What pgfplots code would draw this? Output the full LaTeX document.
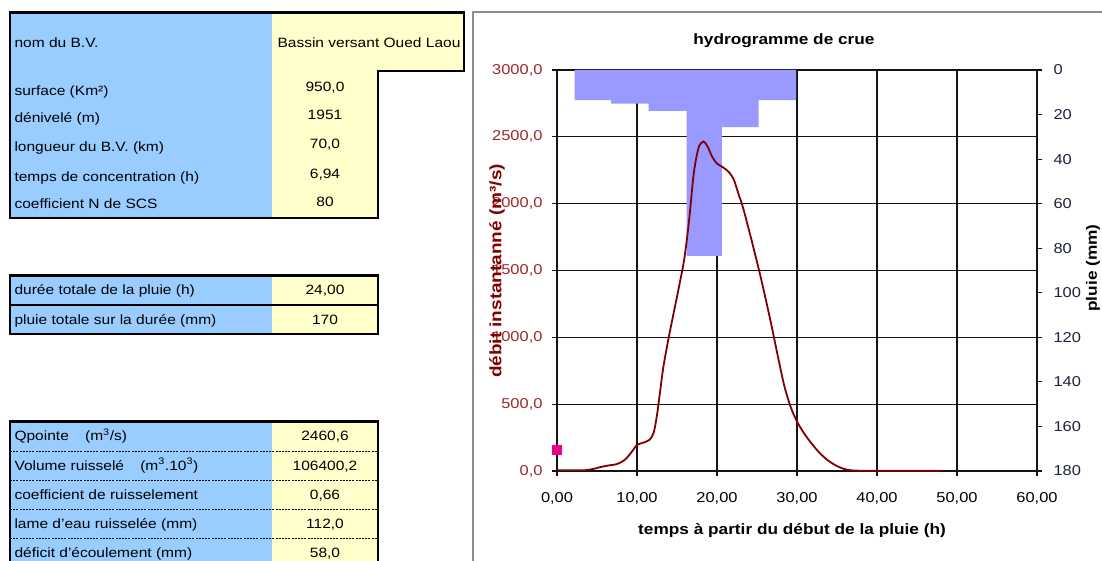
\documentclass[border=0pt]{standalone}
\usepackage{fontspec}
\setmainfont{Liberation Sans}[FakeStretch=1.15]
\usepackage{pgfplots}
\pgfplotsset{compat=1.18}
\definecolor{bvblue}{RGB}{153,204,255}
\definecolor{bvyellow}{RGB}{255,255,204}
\definecolor{rainbar}{RGB}{153,153,255}
\definecolor{flow}{RGB}{128,0,0}
\definecolor{ticklab}{RGB}{160,40,40}
\definecolor{navy}{RGB}{30,35,60}
\newcommand{\tf}{\fontsize{13.5}{16}\selectfont}
\newcommand{\kf}{\fontsize{14.3}{17}\selectfont}
\begin{document}
\begin{tikzpicture}[x=1pt,y=1pt]
\useasboundingbox (0,0) rectangle (1102,561);
\clip (0,0) rectangle (1102,561);
\fill[white] (0,0) rectangle (1102,561);
\coordinate (C) at (797,290.5);
% ---- table 1
\fill[bvblue] (10,343) rectangle (272,548.5);
\fill[bvyellow] (272,343) rectangle (378,490);
\fill[bvyellow] (272,490) rectangle (464,548.5);
\draw[line width=2.2pt] (10,548.5) -- (464,548.5) -- (464,490) -- (378,490) -- (378,343) -- (10,343) -- cycle;
\begin{scope}[font=\tf]
\node[anchor=mid west] at (11,516) {nom du B.V.};
\node[anchor=mid west] at (11,468) {surface (Km²)};
\node[anchor=mid west] at (11,441) {dénivelé (m)};
\node[anchor=mid west] at (11,412) {longueur du B.V. (km)};
\node[anchor=mid west] at (11,382.5) {temps de concentration (h)};
\node[anchor=mid west] at (11,355) {coefficient N de SCS};
\node[anchor=mid] at (369,516) {Bassin versant Oued Laou};
\node[anchor=mid] at (325,472) {950,0};
\node[anchor=mid] at (325,444) {1951};
\node[anchor=mid] at (325,415) {70,0};
\node[anchor=mid] at (325,385) {6,94};
\node[anchor=mid] at (325,357.5) {80};
\end{scope}
% ---- table 2
\fill[bvblue] (10,227) rectangle (272,285.5);
\fill[bvyellow] (272,227) rectangle (378,285.5);
\draw[line width=2.2pt] (10,227) rectangle (378,285.5);
\draw[line width=2.2pt] (10,256) -- (378,256);
\begin{scope}[font=\tf]
\node[anchor=mid west] at (11,269) {durée totale de la pluie (h)};
\node[anchor=mid west] at (11,239.5) {pluie totale sur la durée (mm)};
\node[anchor=mid] at (325,269) {24,00};
\node[anchor=mid] at (325,239.5) {170};
\end{scope}
% ---- table 3
\fill[bvblue] (10,-10) rectangle (272,139.5);
\fill[bvyellow] (272,-10) rectangle (378,139.5);
\draw[line width=2.2pt] (10,-10) -- (10,139.5) -- (378,139.5) -- (378,-10);
\foreach \yy in {110,81,52,23} {\draw[line width=0.9pt, dash pattern=on 2pt off 1.2pt] (10,\yy) -- (378,\yy);}
\begin{scope}[font=\tf]
\node[anchor=mid west] at (11,123) {Qpointe\hspace{1.2em}(m\textsuperscript{3}/s)};
\node[anchor=mid west] at (11,93.5) {Volume ruisselé\hspace{1.2em}(m\textsuperscript{3}.10\textsuperscript{3})};
\node[anchor=mid west] at (11,64.5) {coefficient de ruisselement};
\node[anchor=mid west] at (11,35.5) {lame d'eau ruisselée (mm)};
\node[anchor=mid west] at (11,6.5) {déficit d'écoulement (mm)};
\node[anchor=mid] at (325,123) {2460,6};
\node[anchor=mid] at (325,93.5) {106400,2};
\node[anchor=mid] at (325,64.5) {0,66};
\node[anchor=mid] at (325,35.5) {112,0};
\node[anchor=mid] at (325,6.5) {58,0};
\end{scope}
% ---- chart frame
\draw[black!45, line width=1.5pt] (473,-10) -- (473,549) -- (1110,549);
% ---- axis A : grid and left/bottom ticks
\begin{axis}[at={(C)}, anchor=center, scale only axis,
  width=480pt, height=401pt,
  xmin=0, xmax=60, ymin=0, ymax=3000,
  xtick={0,10,...,60}, ytick={0,500,...,3000},
  grid=major, grid style={black!92, line width=1.1pt},
  axis line style={black!92, line width=1.1pt},
  tick pos=left, tick align=outside, major tick length=5pt,
  tick style={black!92, line width=1.1pt},
  /pgf/number format/assume math mode=true,
  xticklabel style={font=\kf, yshift=-13pt, /pgf/number format/.cd, fixed, fixed zerofill, precision=2, use comma, 1000 sep={}},
  yticklabel style={font=\kf, text=ticklab, xshift=-6pt, /pgf/number format/.cd, fixed, fixed zerofill, precision=1, use comma, 1000 sep={}},
]
\addplot[draw=none] coordinates {(0,0)};
\end{axis}
% ---- axis B : rain
\begin{axis}[at={(C)}, anchor=center, scale only axis,
  width=480pt, height=401pt,
  xmin=0, xmax=60, ymin=0, ymax=180, y dir=reverse,
  axis x line=none, axis y line*=right,
  ytick={0,20,...,180},
  axis line style={black!92, line width=1.1pt},
  tick align=outside, major tick length=5pt,
  tick style={black!92, line width=1.1pt},
  /pgf/number format/assume math mode=true,
  yticklabel style={font=\kf, text=navy, xshift=8pt},
]
\addplot[ybar interval, fill=rainbar, draw=none] coordinates {(2.2,13.5) (6.77,15.1) (11.46,18.4) (16.2,83.4) (20.6,25.6) (25.2,13.5) (29.9,13.5)};
\end{axis}
% ---- axis C : hydrograph
\begin{axis}[at={(C)}, anchor=center, scale only axis,
  width=480pt, height=401pt,
  xmin=0, xmax=60, ymin=0, ymax=3000, hide axis, clip=false]
\addplot[smooth, tension=0.45, flow, line width=1.8pt] coordinates {
(0,5) (2,5) (3.5,6) (4.5,15) (5.5,30) (6.5,42) (7.5,52) (8.5,85) (9.3,140) (10,195)
(10.8,212) (11.6,235) (12.1,290) (12.5,420) (12.9,600) (13.3,780) (14,1010) (15.1,1334)
(15.9,1583) (16.5,1870) (17.1,2230) (17.7,2420) (18.3,2465) (18.8,2430) (19.4,2350)
(20.0,2300) (20.8,2270) (21.5,2235) (22.1,2180) (22.7,2070) (23.3,1960) (24.4,1708)
(25.5,1440) (26.7,1120) (27.6,860) (28.4,640) (29.2,480) (30.0,370) (30.9,280) (31.9,200)
(32.9,130) (33.9,78) (34.9,40) (35.9,15) (36.8,5) (38,2) (40,2) (44,2) (48,2)};
\addplot[only marks, mark=square*, mark size=4.5pt, color=magenta] coordinates {(0,160)};
\end{axis}
% ---- chart texts
\node[font=\bfseries\fontsize{15}{18}\selectfont] at (784,520) {hydrogramme de crue};
\node[font=\bfseries\fontsize{15}{18}\selectfont] at (792,30) {temps à partir du début de la pluie (h)};
\node[rotate=90, font=\bfseries\fontsize{16.5}{19}\selectfont, text=flow] at (497,290) {débit instantanné (m³/s)};
\node[rotate=90, font=\bfseries\fontsize{15}{18}\selectfont] at (1093,293) {pluie (mm)};
\end{tikzpicture}
\end{document}
